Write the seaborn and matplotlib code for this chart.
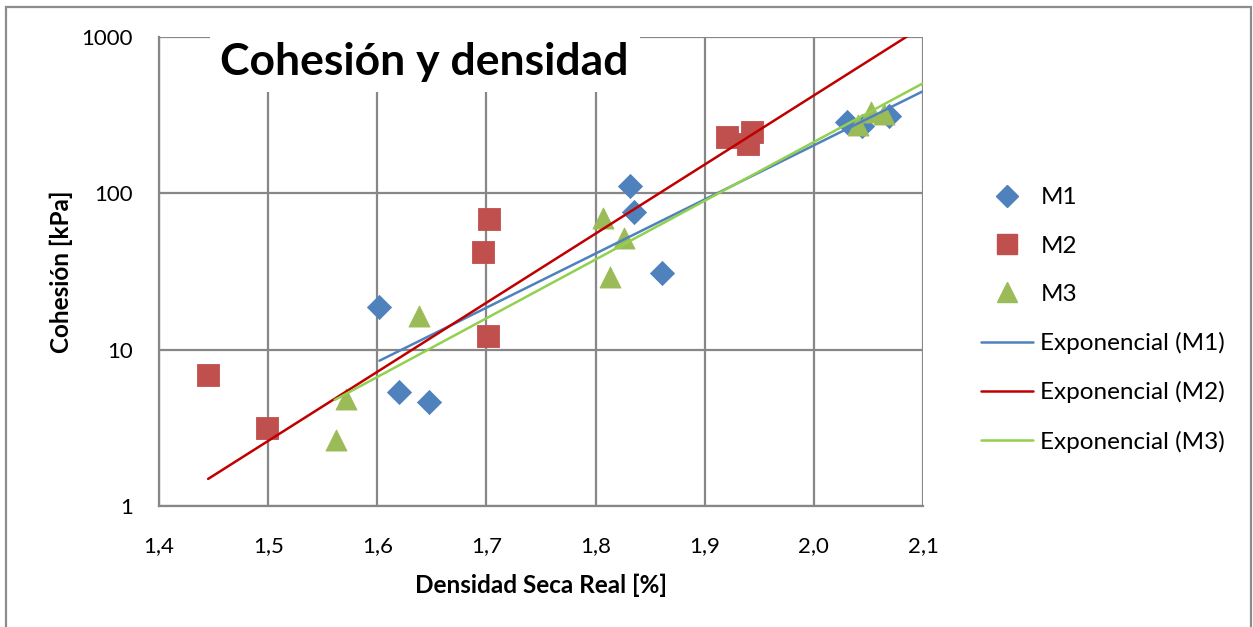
import numpy as np
import pandas as pd
import matplotlib
matplotlib.use("Agg")
import matplotlib.pyplot as plt
from matplotlib.lines import Line2D
from matplotlib.patches import Rectangle
from matplotlib.ticker import FixedLocator, FixedFormatter, NullLocator
import seaborn as sns

# ---- data ----
m1_x = [1.602, 1.620, 1.647, 1.832, 1.835, 1.861, 2.030, 2.044, 2.069]
m1_y = [18.8, 5.4, 4.6, 111, 76, 31, 285, 268, 312]
m2_x = [1.445, 1.499, 1.701, 1.697, 1.702, 1.920, 1.940, 1.943]
m2_y = [6.9, 3.15, 12.2, 42, 69, 230, 207, 247]
m3_x = [1.562, 1.571, 1.638, 1.807, 1.826, 1.813, 2.040, 2.052, 2.064]
m3_y = [2.65, 4.8, 16.5, 70, 52, 29, 272, 330, 322]

# exponential trend lines (end points)
t1_x = [1.602, 2.10]
t1_y = [8.5, 450]
t2_x = [1.445, 2.10]
t2_y = [1.49, 1170]
t3_x = [1.561, 2.10]
t3_y = [4.77, 506]

x_ticks = [1.4, 1.5, 1.6, 1.7, 1.8, 1.9, 2.0, 2.1]
x_labels = ["1,4", "1,5", "1,6", "1,7", "1,8", "1,9", "2,0", "2,1"]
y_ticks = [1, 10, 100, 1000]
y_labels = ["1", "10", "100", "1000"]

series = ["M1", "M2", "M3"]
trend_names = ["Exponencial (M1)", "Exponencial (M2)", "Exponencial (M3)"]

# ---- style ----
sns.set_theme(style="white")
plt.rcParams["font.family"] = ["Lato", "DejaVu Sans"]
plt.rcParams["text.color"] = "black"
plt.rcParams["axes.labelcolor"] = "black"

pt_colors = {"M1": "#4F81BD", "M2": "#C0504D", "M3": "#9BBB59"}
pt_markers = {"M1": "D", "M2": "s", "M3": "^"}
pt_sizes = {"M1": 150, "M2": 250, "M3": 230}
tr_colors = ["#4F81BD", "#C00000", "#92D050"]
grid_col = "#878787"

df = pd.concat([
    pd.DataFrame({"x": m1_x, "y": m1_y, "serie": "M1"}),
    pd.DataFrame({"x": m2_x, "y": m2_y, "serie": "M2"}),
    pd.DataFrame({"x": m3_x, "y": m3_y, "serie": "M3"}),
], ignore_index=True)

trend_df = pd.concat([
    pd.DataFrame({"x": t1_x, "y": t1_y, "t": trend_names[0]}),
    pd.DataFrame({"x": t2_x, "y": t2_y, "t": trend_names[1]}),
    pd.DataFrame({"x": t3_x, "y": t3_y, "t": trend_names[2]}),
], ignore_index=True)

fig = plt.figure(figsize=(12.53, 6.27), dpi=100)
fig.patch.set_facecolor("white")
ax = fig.add_axes([159 / 1253, 1 - 506 / 627, (923 - 159) / 1253, (506 - 37) / 627])
ax.set_yscale("log")
ax.set_xlim(1.4, 2.1)
ax.set_ylim(1, 1000)

# grid
ax.xaxis.set_major_locator(FixedLocator(x_ticks))
ax.yaxis.set_major_locator(FixedLocator(y_ticks))
ax.yaxis.set_minor_locator(NullLocator())
ax.xaxis.set_major_formatter(FixedFormatter(x_labels))
ax.yaxis.set_major_formatter(FixedFormatter(y_labels))
ax.grid(True, which="major", color=grid_col, linewidth=1.6)
for s in ax.spines.values():
    s.set_color(grid_col)
    s.set_linewidth(1.6)
ax.spines["right"].set_visible(False)
ax.spines["top"].set_visible(False)
ax.tick_params(axis="both", length=0, labelsize=16, colors="black")
ax.tick_params(axis="x", pad=22)
ax.tick_params(axis="y", pad=19)

# points
for s in series:
    sub = df[df["serie"] == s]
    sns.scatterplot(data=sub, x="x", y="y", ax=ax, marker=pt_markers[s],
                    color=pt_colors[s], s=pt_sizes[s], linewidth=0.6,
                    edgecolor=pt_colors[s], legend=False, zorder=3)

# trend lines
sns.lineplot(data=trend_df, x="x", y="y", hue="t", palette=tr_colors,
             hue_order=trend_names, ax=ax, linewidth=1.8, legend=False,
             estimator=None, sort=False, zorder=4)

ax.set_xlabel("Densidad Seca Real [%]", fontsize=17.5, fontweight="bold",
              labelpad=12, color="black")
ax.set_ylabel("Cohesión [kPa]", fontsize=17.5, fontweight="bold",
              labelpad=6, color="black")

# title box inside the plot area
ax.add_patch(Rectangle((210 / 1253, 1 - 92 / 627), (640 - 210) / 1253, (92 - 30) / 627,
                       transform=fig.transFigure, facecolor="white", edgecolor="none",
                       zorder=5, clip_on=False))
fig.text(424 / 1253, 1 - 62 / 627, "Cohesión y densidad", fontsize=32, fontweight="bold",
         ha="center", va="center", color="black", zorder=6)

# legend
handles = [Line2D([], [], linestyle="none", marker=pt_markers[s], color=pt_colors[s],
                  markersize={"M1": 11, "M2": 14, "M3": 14}[s]) for s in series]
handles += [Line2D([], [], color=c, linewidth=1.8) for c in tr_colors]
leg = fig.legend(handles, series + trend_names, loc="center left",
                 bbox_to_anchor=(969 / 1253, 1 - 320 / 627), frameon=False, fontsize=17.5,
                 handlelength=2.14, handletextpad=0.3, labelspacing=1.12, borderpad=0)
for t in leg.get_texts():
    t.set_color("black")

# outer chart border
fig.add_artist(Rectangle((6 / 1253, -0.01), (1251 - 6) / 1253, 1 - 7 / 627 + 0.01,
                         transform=fig.transFigure, facecolor="none",
                         edgecolor="#8c8c8c", linewidth=1.6, zorder=0))

fig.savefig("out.png", dpi=100, facecolor="white")
